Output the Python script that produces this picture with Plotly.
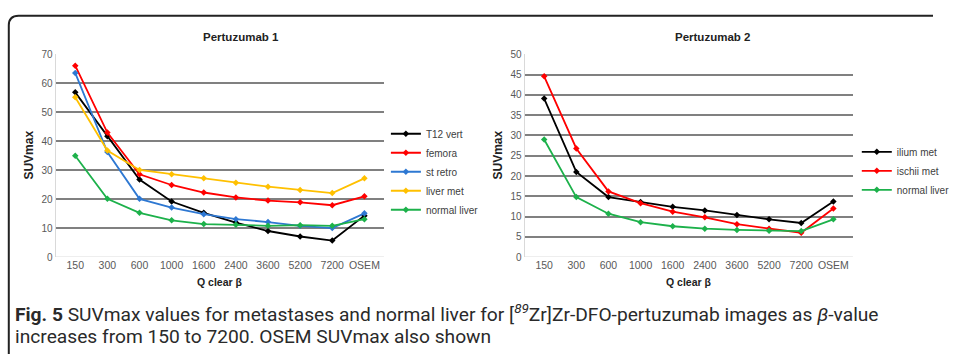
import plotly.graph_objects as go

categories = ["150", "300", "600", "1000", "1600", "2400", "3600", "5200", "7200", "OSEM"]

# Pertuzumab 1
t12_vert = [56.9, 41.7, 26.8, 19.2, 15.3, 11.9, 9.0, 7.1, 5.7, 14.3]
femora = [66.1, 43.0, 28.6, 24.9, 22.3, 20.6, 19.5, 18.9, 17.9, 21.0]
st_retro = [63.6, 36.3, 20.1, 17.1, 14.8, 13.1, 12.1, 10.8, 10.0, 15.1]
liver_met = [55.2, 36.8, 30.1, 28.6, 27.2, 25.7, 24.3, 23.2, 22.1, 27.2]
normal_liver_1 = [35.0, 20.1, 15.3, 12.7, 11.4, 11.2, 10.8, 11.0, 10.8, 13.1]

# Pertuzumab 2
ilium_met = [39.1, 21.0, 14.8, 13.6, 12.4, 11.5, 10.4, 9.3, 8.4, 13.7]
ischii_met = [44.6, 26.8, 16.2, 13.3, 11.2, 9.8, 8.1, 7.0, 6.0, 12.0]
normal_liver_2 = [29.0, 14.8, 10.7, 8.6, 7.6, 7.0, 6.7, 6.5, 6.4, 9.3]

series1 = [("T12 vert", t12_vert, "#000000"),
           ("femora", femora, "#FF0000"),
           ("st retro", st_retro, "#2E78D2"),
           ("liver met", liver_met, "#FFC000"),
           ("normal liver", normal_liver_1, "#1DB14B")]
series2 = [("ilium met", ilium_met, "#000000"),
           ("ischii met", ischii_met, "#FF0000"),
           ("normal liver", normal_liver_2, "#1DB14B")]

W, H = 955, 360
def px(x):
    return x / W
def py(y):
    return 1 - y / H

FONT = "Liberation Sans"
fig = go.Figure()

for name, vals, col in series1:
    fig.add_trace(go.Scatter(x=categories, y=vals, name=name, mode="lines+markers",
                             line=dict(color=col, width=1.8),
                             marker=dict(symbol="diamond", size=5, color=col),
                             xaxis="x", yaxis="y", legend="legend"))
for name, vals, col in series2:
    fig.add_trace(go.Scatter(x=categories, y=vals, name=name, mode="lines+markers",
                             line=dict(color=col, width=1.8),
                             marker=dict(symbol="diamond", size=5, color=col),
                             xaxis="x2", yaxis="y2", legend="legend2"))

grid = "#808080"
xcommon = dict(type="category", showgrid=False, showline=False, ticks="",
               tickfont=dict(family=FONT, size=10.5, color="#595959"), fixedrange=True)
ycommon = dict(showgrid=True, gridcolor=grid, gridwidth=1.6, zeroline=False,
               showline=True, linecolor="#d9d9d9", linewidth=1, ticks="",
               tickfont=dict(family=FONT, size=10, color="#595959"))

fig.update_layout(
    width=W, height=H, margin=dict(l=0, r=0, t=0, b=0),
    paper_bgcolor="white", plot_bgcolor="white",
    font=dict(family=FONT),
    xaxis=dict(domain=[px(57), px(393)], anchor="y", **xcommon),
    yaxis=dict(domain=[py(260), py(51)], anchor="x", range=[0, 70], dtick=10, **ycommon),
    xaxis2=dict(domain=[px(537), px(873)], anchor="y2", **xcommon),
    yaxis2=dict(domain=[py(260), py(51)], anchor="x2", range=[0, 50], dtick=5, **ycommon),
    legend=dict(x=px(395), y=py(172), xanchor="left", yanchor="middle",
                font=dict(family=FONT, size=10, color="#404040"),
                bgcolor="rgba(0,0,0,0)", tracegroupgap=0, itemwidth=30),
    legend2=dict(x=px(877), y=py(171), xanchor="left", yanchor="middle",
                 font=dict(family=FONT, size=10, color="#404040"),
                 bgcolor="rgba(0,0,0,0)", tracegroupgap=0, itemwidth=30),
    showlegend=True,
)

# zero baselines
for xr, yr in (("x", "y"), ("x2", "y2")):
    fig.add_shape(type="line", xref=f"{xr} domain", yref=yr, x0=0, x1=1, y0=0, y1=0,
                  line=dict(color="#d9d9d9", width=1))

# frame (rounded top-left corner, runs off the right and bottom edges)
r = 10
fx, fy = 9, 11
path = (f"M {px(fx)},0 L {px(fx)},{py(fy + r)} "
        f"Q {px(fx)},{py(fy)} {px(fx + r)},{py(fy)} L 1,{py(fy)}")
fig.add_shape(type="path", xref="paper", yref="paper", path=path,
              line=dict(color="#222222", width=2))

ann = []
ann.append(dict(text="<b>Pertuzumab 1</b>", x=px(247), y=py(33), size=11.5))
ann.append(dict(text="<b>Pertuzumab 2</b>", x=px(729), y=py(33), size=11.5))
ann.append(dict(text="<b>Q clear β</b>", x=px(225), y=py(286), size=10.5))
ann.append(dict(text="<b>Q clear β</b>", x=px(705), y=py(286), size=10.5))
for a in ann:
    s = a.pop("size")
    fig.add_annotation(xref="paper", yref="paper", showarrow=False, xanchor="center",
                       yanchor="middle", font=dict(family=FONT, size=s, color="#222222"), **a)
for xx in (30, 510):
    fig.add_annotation(text="<b>SUVmax</b>", x=px(xx), y=py(155), xref="paper", yref="paper",
                       showarrow=False, textangle=-90, xanchor="center", yanchor="middle",
                       font=dict(family=FONT, size=12, color="#222222"))

CAP = "Roboto"
fig.add_annotation(text="<b>Fig. 5</b> SUVmax values for metastases and normal liver for [<sup><i>89</i></sup>Zr]Zr-DFO-pertuzumab images as <i>β</i>-value",
                   x=px(13), y=py(318), xref="paper", yref="paper", showarrow=False,
                   xanchor="left", yanchor="middle", font=dict(family=CAP, size=19.2, color="#2a2a2a"))
fig.add_annotation(text="increases from 150 to 7200. OSEM SUVmax also shown",
                   x=px(13), y=py(342), xref="paper", yref="paper", showarrow=False,
                   xanchor="left", yanchor="middle", font=dict(family=CAP, size=19.2, color="#2a2a2a"))

fig.write_html("out.html", config={"displayModeBar": False},
               post_script="document.body.style.margin='0';document.body.style.overflow='hidden';")
